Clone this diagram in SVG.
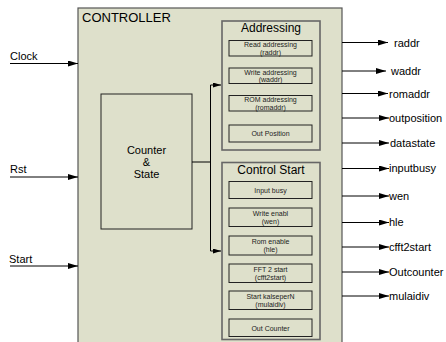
<svg xmlns="http://www.w3.org/2000/svg" width="446" height="342" viewBox="0 0 446 342">
  <defs>
    <marker id="arr" viewBox="0 0 10 6" refX="10" refY="3" markerWidth="10" markerHeight="6" markerUnits="userSpaceOnUse" orient="auto">
      <path d="M0,0 L10,3 L0,6 Z" fill="#000"/>
    </marker>
    <marker id="arrs" viewBox="0 0 8 5" refX="8" refY="2.5" markerWidth="8" markerHeight="5" markerUnits="userSpaceOnUse" orient="auto">
      <path d="M0,0 L8,2.5 L0,5 Z" fill="#000"/>
    </marker>
  </defs>
  <style>
    text { font-family: "Liberation Sans", Arial, sans-serif; fill: #000; }
    .main { fill: #dee0cb; stroke: #555; stroke-width: 1.2; }
    .grp { fill: #dee0cb; stroke: #666; stroke-width: 1.6; }
    .cell { fill: #dee0cb; stroke: #222; stroke-width: 1; }
    .core { fill: #dee0cb; stroke: #222; stroke-width: 1; }
    .wire { stroke: #000; stroke-width: 1; fill: none; }
    .io { font-size: 11px; }
    .ttl { font-size: 12px; text-anchor: middle; }
    .sm { font-size: 7px; text-anchor: middle; fill: #222; }
  </style>

  <!-- outer controller block -->
  <g id="controller">
    <rect class="main" x="78" y="8" width="264" height="340"/>
    <text x="82" y="22" font-size="13">CONTROLLER</text>
  </g>

  <!-- counter & state core -->
  <g id="counter-state">
    <rect class="core" x="101" y="94" width="91" height="135"/>
    <text x="146.5" y="154" font-size="11" text-anchor="middle">Counter</text>
    <text x="146.5" y="166" font-size="11" text-anchor="middle">&amp;</text>
    <text x="146.5" y="178" font-size="11" text-anchor="middle">State</text>
  </g>

  <!-- addressing group -->
  <g id="addressing">
    <rect class="grp" x="222" y="21" width="98" height="129"/>
    <text class="ttl" x="271" y="32">Addressing</text>
    <rect class="cell" x="229" y="40.5" width="83" height="15.5"/>
    <text class="sm" x="270.5" y="47">Read addressing</text>
    <text class="sm" x="270.5" y="54.5">(raddr)</text>
    <rect class="cell" x="229" y="68" width="83" height="15.5"/>
    <text class="sm" x="270.5" y="74.5">Write addressing</text>
    <text class="sm" x="270.5" y="82">(waddr)</text>
    <rect class="cell" x="229" y="95.5" width="83" height="15.5"/>
    <text class="sm" x="270.5" y="102">ROM addressing</text>
    <text class="sm" x="270.5" y="109.5">(romaddr)</text>
    <rect class="cell" x="229" y="125" width="83" height="17"/>
    <text class="sm" x="270.5" y="136">Out Position</text>
  </g>

  <!-- control start group -->
  <g id="control-start">
    <rect class="grp" x="222" y="162.5" width="98" height="177"/>
    <text class="ttl" x="271" y="174">Control Start</text>
    <rect class="cell" x="229" y="181.5" width="83" height="17"/>
    <text class="sm" x="270.5" y="192.5">Input busy</text>
    <rect class="cell" x="229" y="208" width="83" height="18.5"/>
    <text class="sm" x="270.5" y="215.5">Write enabl</text>
    <text class="sm" x="270.5" y="223.5">(wen)</text>
    <rect class="cell" x="229" y="236" width="83" height="19"/>
    <text class="sm" x="270.5" y="243.5">Rom enable</text>
    <text class="sm" x="270.5" y="252">(hle)</text>
    <rect class="cell" x="229" y="264" width="83" height="18.5"/>
    <text class="sm" x="270.5" y="271.5">FFT 2 start</text>
    <text class="sm" x="270.5" y="279.5">(cfft2start)</text>
    <rect class="cell" x="229" y="291" width="83" height="18.5"/>
    <text class="sm" x="270.5" y="298.5">Start kalseperN</text>
    <text class="sm" x="270.5" y="306.5">(mulaidiv)</text>
    <rect class="cell" x="229" y="319" width="83" height="17.5"/>
    <text class="sm" x="270.5" y="330.5">Out Counter</text>
  </g>

  <!-- input labels -->
  <g id="inputs">
    <text class="io" x="10" y="60">Clock</text>
    <text class="io" x="10" y="173">Rst</text>
    <text class="io" x="9" y="263">Start</text>
  </g>

  <!-- output labels -->
  <g id="outputs">
    <text class="io" x="394" y="47">raddr</text>
    <text class="io" x="391" y="75">waddr</text>
    <text class="io" x="389" y="98">romaddr</text>
    <text class="io" x="389" y="122">outposition</text>
    <text class="io" x="390" y="147">datastate</text>
    <text class="io" x="389" y="172">inputbusy</text>
    <text class="io" x="389" y="200">wen</text>
    <text class="io" x="389" y="226">hle</text>
    <text class="io" x="389" y="251">cfft2start</text>
    <text class="io" x="389" y="276">Outcounter</text>
    <text class="io" x="389" y="300">mulaidiv</text>
  </g>

  <!-- connectors -->
  <g id="connectors">
    <line class="wire" x1="10" y1="63.5" x2="78" y2="63.5" marker-end="url(#arr)"/>
    <line class="wire" x1="10" y1="177" x2="78" y2="177" marker-end="url(#arr)"/>
    <line class="wire" x1="10" y1="266" x2="78" y2="266" marker-end="url(#arr)"/>

    <polyline class="wire" points="192,162 210.5,162"/>
    <polyline class="wire" points="210.5,251 210.5,85 221,85" marker-end="url(#arrs)"/>
    <line class="wire" x1="210.5" y1="251" x2="221" y2="251" marker-end="url(#arrs)"/>

    <line class="wire" x1="342" y1="42.5" x2="388" y2="42.5" marker-end="url(#arr)"/>
    <line class="wire" x1="342" y1="71" x2="386" y2="71" marker-end="url(#arr)"/>
    <line class="wire" x1="342" y1="93.5" x2="388" y2="93.5" marker-end="url(#arr)"/>
    <line class="wire" x1="342" y1="118" x2="389" y2="118" marker-end="url(#arr)"/>
    <line class="wire" x1="342" y1="143" x2="389" y2="143" marker-end="url(#arr)"/>
    <line class="wire" x1="342" y1="168.5" x2="389" y2="168.5" marker-end="url(#arr)"/>
    <line class="wire" x1="342" y1="196" x2="389" y2="196" marker-end="url(#arr)"/>
    <line class="wire" x1="342" y1="222.5" x2="389" y2="222.5" marker-end="url(#arr)"/>
    <line class="wire" x1="342" y1="247" x2="389" y2="247" marker-end="url(#arr)"/>
    <line class="wire" x1="342" y1="272" x2="389" y2="272" marker-end="url(#arr)"/>
    <line class="wire" x1="342" y1="296" x2="389" y2="296" marker-end="url(#arr)"/>
  </g>
</svg>
